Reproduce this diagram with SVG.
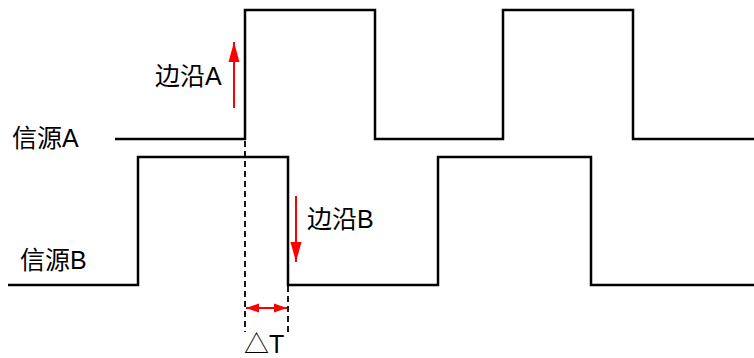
<svg xmlns="http://www.w3.org/2000/svg" width="754" height="358" viewBox="0 0 754 358">
<defs>
<style>
.sig{fill:none;stroke:#000;stroke-width:2.5;stroke-linejoin:miter}
.dash{fill:none;stroke:#000;stroke-width:1.8;stroke-dasharray:6,4}
.red{fill:none;stroke:#f00;stroke-width:2}
.lbl{font-family:"Liberation Sans","Noto Sans CJK SC",sans-serif;font-size:25px;fill:#000}
</style>
<marker id="ahL" viewBox="0 0 20 12" refX="20" refY="6" markerWidth="20" markerHeight="12" orient="auto-start-reverse" markerUnits="userSpaceOnUse"><path d="M0,0.5 L20,6 L0,11.5 z" fill="#f00"/></marker>
<marker id="ahS" viewBox="0 0 13 10" refX="13" refY="5" markerWidth="13" markerHeight="10" orient="auto-start-reverse" markerUnits="userSpaceOnUse"><path d="M0,0.5 L13,5 L0,9.5 z" fill="#f00"/></marker>
</defs>
<g id="signalA">
<path class="sig" d="M115,139 H245 V10 H375 V139 H503 V10 H633 V139 H754"/>
<text class="lbl" x="12" y="147">信源A</text>
</g>
<g id="signalB">
<path class="sig" d="M8,285 H138 V157 H288 V285 H438 V157 H591 V285 H754"/>
<text class="lbl" x="20" y="269">信源B</text>
</g>
<g id="edgeA">
<text class="lbl" x="155" y="85">边沿A</text>
</g>
<g id="edgeB">
<text class="lbl" x="307" y="228">边沿B</text>
</g>
<g id="deltaT">
<text class="lbl" x="244" y="353">△T</text>
</g>
<g id="connectors">
<line class="dash" x1="245" y1="141" x2="245" y2="332"/>
<line class="dash" x1="288" y1="286" x2="288" y2="332"/>
<line class="red" x1="234" y1="108" x2="234" y2="42" marker-end="url(#ahL)"/>
<line class="red" x1="296" y1="196" x2="296" y2="262" marker-end="url(#ahL)"/>
<line class="red" x1="246" y1="308" x2="287" y2="308" marker-start="url(#ahS)" marker-end="url(#ahS)"/>
</g>
</svg>
